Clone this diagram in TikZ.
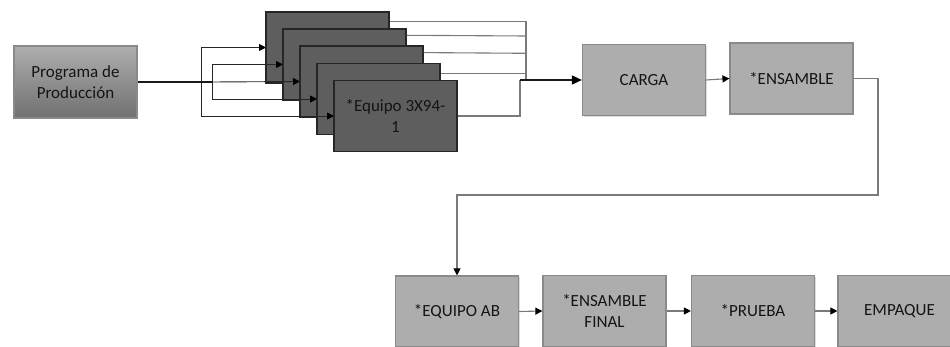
\documentclass[tikz,border=0pt]{standalone}
\usepackage{fontspec}
\setmainfont{Carlito}
\usetikzlibrary{arrows.meta,shadows,calc}
\definecolor{boxfill}{HTML}{ADADAD}
\definecolor{boxline}{HTML}{8A8A8A}
\definecolor{darkfill}{HTML}{5E5E5E}
\definecolor{darkline}{HTML}{262626}
\definecolor{progtop}{HTML}{AEAEAE}
\definecolor{progbot}{HTML}{707070}
\definecolor{txt}{HTML}{141414}
\definecolor{linegray}{HTML}{7A7A7A}
\begin{document}
\begin{tikzpicture}[x=1pt,y=-1pt,
  font=\fontsize{17}{20.5}\selectfont,
  boxbase/.style={minimum width=123pt, minimum height=71pt, inner sep=0pt, align=center, text=txt},
  litebox/.style={boxbase, draw=boxline, fill=boxfill, line width=1.2pt,
    drop shadow={opacity=0.25, shadow xshift=1pt, shadow yshift=-1.5pt}},
  darkbox/.style={boxbase, draw=darkline, fill=darkfill, line width=1.4pt},
  progbox/.style={boxbase, minimum height=72pt, draw=boxline, line width=1.2pt,
    top color=progtop, bottom color=progbot,
    drop shadow={opacity=0.25, shadow xshift=1pt, shadow yshift=-1.5pt}},
  link/.style={draw=black!85, line width=0.9pt},
  outl/.style={draw=linegray, line width=1.1pt},
  mainl/.style={draw=black!90, line width=1.7pt},
  tip/.style={-{Triangle[length=7pt,width=7pt,color=black]}},
  bigtip/.style={-{Triangle[length=10pt,width=9pt,color=black]}}]
\useasboundingbox (0,0) rectangle (950,347);
\clip (0,0) rectangle (950,347);

% Programa
\node[progbox] (prog) at (75.5,82) {Programa de\\Producción};

% input distribution
\coordinate (v1) at (201,0);
\coordinate (v2) at (212,0);
\coordinate (b1c) at (327.5,47.5);

\draw[link] (v1 |- b1c) -- (v1 |- 0,116);
\draw[link] (v2 |- 0,64.5) -- (v2 |- 0,99);

\draw[link,tip] (v1 |- b1c) -- (266,47.5);
\node[darkbox] (b1) at (b1c) {};
\draw[link,tip] (v2 |- 0,64.5) -- (283,64.5);
\node[darkbox] (b2) at (344.5,64.5) {};
\draw[mainl] (prog.east) -- (v2 |- prog.east);
\draw[link,tip] (v2 |- prog.east) -- (300,81.5);
\node[darkbox] (b3) at (361.5,81.5) {};
\draw[link,tip] (v2 |- 0,99) -- (317,99);
\node[darkbox] (b4) at (378.5,99) {};
\draw[link,tip] (v1 |- 0,116) -- (334,116);
\node[darkbox] (b5) at (395.5,116) {*Equipo 3X94-\\1};

% right column boxes
\node[litebox] (carga) at (644,80) {CARGA};
\node[litebox] (ens) at (791.5,78.5) {*ENSAMBLE};

% outputs
\coordinate (col) at (526,0);
\coordinate (col5) at (520,0);
\draw[outl] ($(b1.north east)+(0,10)$) -| (col |- carga.west);
\draw[outl] ($(b2.north east)+(0,7)$) -- (col |- 0,36);
\draw[outl] ($(b3.north east)+(0,7.3)$) -- (col |- 0,53.3);
\draw[outl] ($(b4.north east)+(0,10.5)$) -- (col |- 0,73.3);
\draw[outl] (b5.east) -| (col5 |- carga.west);
\draw[mainl,bigtip] (col5 |- carga.west) -- (carga.west);

\draw[outl,tip] (carga.east) -- (ens.west);

% bottom row
\node[litebox] (eqab) at (457,311.5) {*EQUIPO AB};
\node[litebox] (ensf) at (604.5,311) {*ENSAMBLE\\FINAL};
\node[litebox] (prueba) at (753,311) {*PRUEBA};
\node[litebox] (emp) at (899.5,311) {EMPAQUE};

\coordinate (rt) at (878,195);
\draw[outl,tip] (ens.east) -| (rt) -| (eqab.north);

\draw[outl,tip] (eqab.east) -- (ensf.west);
\draw[outl,tip] (ensf.east) -- (prueba.west);
\draw[outl,tip] (prueba.east) -- (emp.west);
\end{tikzpicture}
\end{document}
